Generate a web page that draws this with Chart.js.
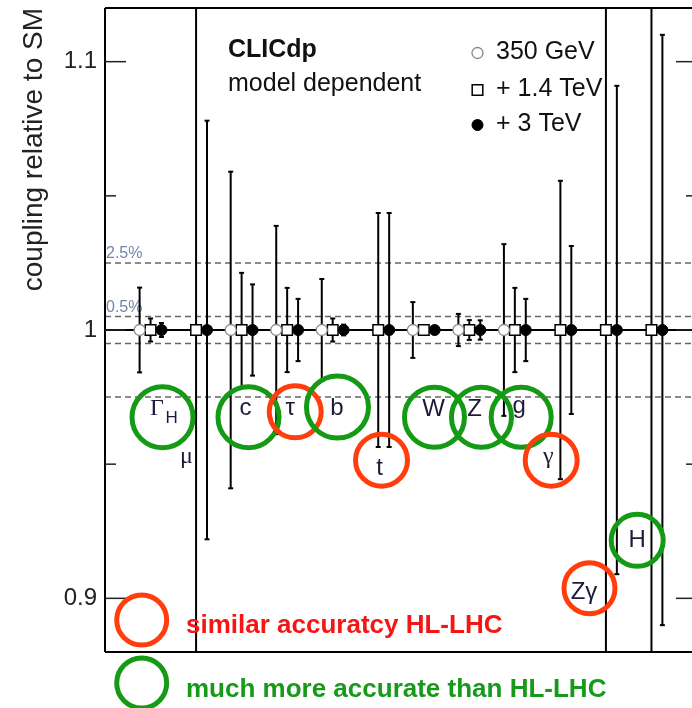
<!DOCTYPE html>
<html>
<head>
<meta charset="utf-8">
<script src="https://cdn.jsdelivr.net/npm/chart.js@4.4.1/dist/chart.umd.min.js"></script>
<style>
  html, body { margin: 0; padding: 0; background: #fff; overflow: hidden; }
  #wrap { position: relative; width: 700px; height: 708px; }
</style>
</head>
<body>
<div id="wrap"><canvas id="chart" width="700" height="708"></canvas></div>
<script>
// couplings along x, all relative to SM (= 1)
const couplings = ['ΓH', 'μ', 'c', 'τ', 'b', 't', 'W', 'Z', 'g', 'γ', 'Zγ', 'H'];

// 350 GeV
const center350 = [1, null, 1, 1, 1, null, 1, 1, 1, null, null, null];
const err350 = [0.0158, null, 0.059, 0.0388, 0.019, null, 0.0104, 0.006, 0.032, null, null, null];
// + 1.4 TeV
const center1400 = [1, 1, 1, 1, 1, 1, 1, 1, 1, 1, 1, 1];
const err1400 = [0.0043, 0.5, 0.0213, 0.0157, 0.0043, 0.0436, 0.0012, 0.0037, 0.0157, 0.0556, 0.5, 0.5];
// + 3 TeV
const center3000 = [1, 1, 1, 1, 1, 1, 1, 1, 1, 1, 1, 1];
const err3000 = [0.0026, 0.078, 0.017, 0.0116, 0.002, 0.0436, 0.0008, 0.0036, 0.0116, 0.0313, 0.091, 0.110];

const yTicks = [0.9, 0.95, 1, 1.05, 1.1];
const yTickLabels = ['0.9', '', '1', '', '1.1'];
const bandLines = [1.025, 1.005, 0.995, 0.975];
const bandLabels = ['2.5%', '0.5%'];
const bandLabelValues = [1.025, 1.005];

// which couplings get which ring
const similarHL = ['τ', 't', 'γ', 'Zγ'];
const betterHL = ['ΓH', 'c', 'b', 'W', 'Z', 'g', 'H'];

const SANS = '"Liberation Sans", Arial, sans-serif';
const SERIF = '"Liberation Serif", "Times New Roman", serif';
const RED_RING = '#ff3d0d';
const GREEN_RING = '#149a14';

// ring annotations: position in axis units, text offsets in px
const rings = [
  { key: 'ΓH', text: 'Γ', sub: 'H', x: 0.263, y: 0.9675, r: 30.5, dx: -5.5, dy: -2, font: SERIF },
  { key: 'μ', text: 'μ', x: 0.79, y: 0.9504, r: 0, dx: 0, dy: 0, font: SERIF },
  { key: 'c', text: 'c', x: 2.151, y: 0.9675, r: 30.5, dx: -3, dy: -2, font: SANS },
  { key: 'τ', text: 'τ', x: 3.177, y: 0.9695, r: 26, dx: -5, dy: 3, font: SANS },
  { key: 'b', text: 'b', x: 4.105, y: 0.9713, r: 31, dx: -0.5, dy: 8, font: SANS },
  { key: 't', text: 't', x: 5.072, y: 0.9515, r: 26, dx: -2, dy: 15, font: SANS },
  { key: 'W', text: 'W', x: 6.235, y: 0.9675, r: 30, dx: -1, dy: -1, font: SANS },
  { key: 'Z', text: 'Z', x: 7.267, y: 0.9675, r: 30, dx: -7, dy: -1, font: SANS },
  { key: 'g', text: 'g', x: 8.139, y: 0.9675, r: 30, dx: -2, dy: -4.5, font: SANS },
  { key: 'γ', text: 'γ', x: 8.798, y: 0.9515, r: 26, dx: -3, dy: 3, font: SERIF },
  { key: 'Zγ', text: 'Zγ', x: 9.639, y: 0.9038, r: 25.5, dx: -5.5, dy: 11, font: SANS },
  { key: 'H', text: 'H', x: 10.687, y: 0.9216, r: 26, dx: 0, dy: 7, font: SANS }
];

const series = [
  { center: center350, err: err350, shift: -0.24 },
  { center: center1400, err: err1400, shift: 0 },
  { center: center3000, err: err3000, shift: 0.24 }
];

function pts(centers, shift) {
  return centers.map((v, i) => v === null ? null : { x: i + shift, y: v }).filter(p => p);
}

function seg(ctx, x1, y1, x2, y2) {
  ctx.beginPath();
  ctx.moveTo(x1, y1);
  ctx.lineTo(x2, y2);
  ctx.stroke();
}

const decor = {
  id: 'decor',
  beforeDatasetsDraw(chart) {
    const { ctx, chartArea: a, scales: { x, y } } = chart;
    ctx.save();
    ctx.beginPath();
    ctx.rect(a.left, a.top, a.right - a.left, a.bottom - a.top);
    ctx.clip();

    // dashed accuracy bands
    ctx.strokeStyle = '#666';
    ctx.lineWidth = 1.5;
    ctx.setLineDash([6, 4]);
    bandLines.forEach(v => {
      const py = y.getPixelForValue(v);
      seg(ctx, a.left, py, a.right, py);
    });
    ctx.setLineDash([]);

    ctx.fillStyle = '#7186ad';
    ctx.font = '16px ' + SANS;
    ctx.textAlign = 'left';
    ctx.textBaseline = 'alphabetic';
    bandLabels.forEach((t, i) => {
      ctx.fillText(t, a.left + 1, y.getPixelForValue(bandLabelValues[i]) - 5);
    });

    // SM line
    ctx.strokeStyle = '#000';
    ctx.lineWidth = 2;
    const p1 = y.getPixelForValue(1);
    seg(ctx, a.left, p1, a.right, p1);

    // error bars
    series.forEach(s => {
      s.center.forEach((v, i) => {
        if (v === null) return;
        const px = x.getPixelForValue(i + s.shift);
        const top = y.getPixelForValue(v + s.err[i]);
        const bot = y.getPixelForValue(v - s.err[i]);
        seg(ctx, px, top, px, bot);
        seg(ctx, px - 2.5, top, px + 2.5, top);
        seg(ctx, px - 2.5, bot, px + 2.5, bot);
      });
    });
    ctx.restore();
  },
  afterDraw(chart) {
    const { ctx, chartArea: a, scales: { x, y } } = chart;
    ctx.save();

    // frame
    ctx.strokeStyle = '#000';
    ctx.lineWidth = 2;
    seg(ctx, a.left, a.top, a.right, a.top);
    seg(ctx, a.left, a.top, a.left, a.bottom);
    seg(ctx, a.left, a.bottom, a.right, a.bottom);

    // inward ticks on both sides
    ctx.lineWidth = 1.5;
    ctx.strokeStyle = '#222';
    yTicks.forEach((v, i) => {
      const len = yTickLabels[i] ? 21 : 11;
      const py = y.getPixelForValue(v);
      seg(ctx, a.left, py, a.left + len, py);
      seg(ctx, a.right - len, py, a.right, py);
    });

    // header texts
    ctx.fillStyle = '#111';
    ctx.textAlign = 'left';
    ctx.textBaseline = 'alphabetic';
    ctx.font = 'bold 25px ' + SANS;
    ctx.fillText('CLICdp', 228, 57);
    ctx.font = '25px ' + SANS;
    ctx.fillText('model dependent', 228, 91);

    // legend of the three energy stages
    const rows = [53, 90, 125];
    chart.data.datasets.forEach((ds, i) => {
      ctx.fillStyle = ds.pointBackgroundColor;
      ctx.strokeStyle = ds.pointBorderColor;
      ctx.lineWidth = ds.pointBorderWidth;
      Chart.helpers.drawPoint(ctx, {
        pointStyle: ds.pointStyle,
        radius: ds.pointRadius,
        rotation: 0,
        borderWidth: ds.pointBorderWidth
      }, 477.5, rows[i]);
      ctx.fillStyle = '#111';
      ctx.font = '25px ' + SANS;
      ctx.fillText(ds.label, 496, rows[i] + 6);
    });

    // rings around couplings
    rings.forEach(rg => {
      const cx = x.getPixelForValue(rg.x);
      const cy = y.getPixelForValue(rg.y);
      if (rg.r > 0) {
        ctx.strokeStyle = similarHL.includes(rg.key) ? RED_RING : GREEN_RING;
        ctx.lineWidth = 5;
        ctx.beginPath();
        ctx.arc(cx, cy, rg.r, 0, Math.PI * 2);
        ctx.stroke();
      }
      ctx.fillStyle = '#1c1c3a';
      ctx.textAlign = 'center';
      ctx.font = '24px ' + rg.font;
      ctx.fillText(rg.text, cx + rg.dx, cy + rg.dy);
      if (rg.sub) {
        ctx.font = '17px ' + SANS;
        ctx.fillText(rg.sub, cx + 9, cy + 6);
      }
    });

    // colour key
    ctx.lineWidth = 5;
    ctx.strokeStyle = RED_RING;
    ctx.beginPath();
    ctx.arc(141.7, 620, 25, 0, Math.PI * 2);
    ctx.stroke();
    ctx.strokeStyle = GREEN_RING;
    ctx.beginPath();
    ctx.arc(141.7, 683, 25, 0, Math.PI * 2);
    ctx.stroke();
    ctx.textAlign = 'left';
    ctx.font = 'bold 26px ' + SANS;
    ctx.fillStyle = '#f51515';
    ctx.fillText('similar accuratcy HL-LHC', 186, 633);
    ctx.fillStyle = '#17991a';
    ctx.fillText('much more accurate than HL-LHC', 186, 697);

    ctx.restore();
  }
};

new Chart(document.getElementById('chart'), {
  type: 'scatter',
  data: {
    datasets: [
      {
        label: '350 GeV', data: pts(center350, -0.24), pointStyle: 'circle', pointRadius: 5.5,
        pointBackgroundColor: '#fff', pointBorderColor: '#888', pointBorderWidth: 1.3
      },
      {
        label: '+ 1.4 TeV', data: pts(center1400, 0), pointStyle: 'rect', pointRadius: 7.5,
        pointBackgroundColor: '#fff', pointBorderColor: '#000', pointBorderWidth: 1.5
      },
      {
        label: '+ 3 TeV', data: pts(center3000, 0.24), pointStyle: 'circle', pointRadius: 5.5,
        pointBackgroundColor: '#000', pointBorderColor: '#000', pointBorderWidth: 1
      }
    ]
  },
  options: {
    responsive: false,
    animation: false,
    events: [],
    layout: { autoPadding: false, padding: { top: 8, right: 3, bottom: 56, left: 0 } },
    plugins: { legend: { display: false }, tooltip: { enabled: false } },
    scales: {
      x: { type: 'linear', min: -1, max: 12, display: false },
      y: {
        min: 0.88,
        max: 1.12,
        grid: { display: false, drawTicks: false },
        border: { display: false },
        afterBuildTicks: s => { s.ticks = yTicks.map(v => ({ value: v })); },
        afterFit: s => {
          s.width = 105;
          s.paddingTop = 0;
          s.paddingBottom = 0;
          s.paddingLeft = 0;
          s.paddingRight = 0;
        },
        ticks: {
          font: { family: SANS, size: 24 },
          color: '#222',
          padding: 8,
          callback: (v, i) => yTickLabels[i]
        },
        title: {
          display: true,
          text: 'coupling relative to SM',
          align: 'end',
          color: '#222',
          font: { family: SANS, size: 28 },
          padding: { top: 17 }
        }
      }
    }
  },
  plugins: [decor]
});
</script>
</body>
</html>
